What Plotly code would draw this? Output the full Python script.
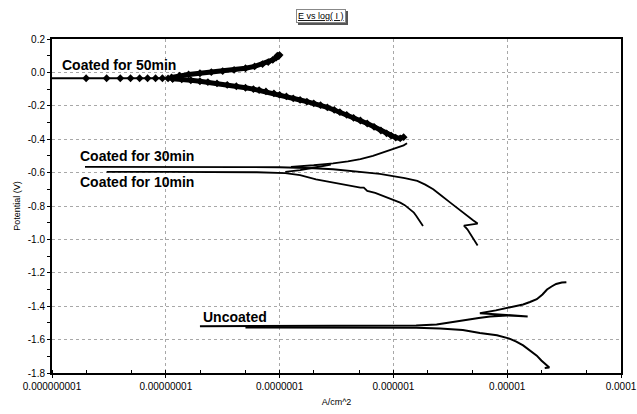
import plotly.graph_objects as go

# ---- data (log10 of current density in A/cm^2, potential in V) ----
c50_cath_logi = [-5.91, -5.94, -5.98, -6.02, -6.06, -6.11, -6.17, -6.23, -6.29, -6.35, -6.41, -6.47,
                 -6.52, -6.58, -6.64, -6.70, -6.76, -6.82, -6.88, -6.94, -7.00, -7.05, -7.12, -7.18,
                 -7.23, -7.30, -7.38, -7.46, -7.55, -7.63, -7.70, -7.78, -7.86, -7.94]
c50_cath_e = [-0.388, -0.395, -0.390, -0.378, -0.365, -0.348, -0.326, -0.306, -0.288, -0.272, -0.254, -0.238,
              -0.225, -0.210, -0.196, -0.185, -0.175, -0.165, -0.155, -0.144, -0.134, -0.125, -0.114, -0.106,
              -0.100, -0.092, -0.083, -0.075, -0.066, -0.058, -0.053, -0.047, -0.042, -0.038]
c50_flat_logi = [-7.94, -7.98, -8.03, -8.09, -8.16, -8.23, -8.31, -8.40, -8.52, -8.70, -9.05]
c50_flat_e = [-0.038, -0.036, -0.035, -0.035, -0.035, -0.035, -0.035, -0.035, -0.035, -0.035, -0.035]
c50_an_logi = [-7.95, -7.88, -7.80, -7.70, -7.60, -7.50, -7.40, -7.30, -7.22, -7.15, -7.10, -7.06,
               -7.03, -7.01, -7.00, -7.02]
c50_an_e = [-0.030, -0.020, -0.012, -0.005, 0.002, 0.008, 0.015, 0.025, 0.036, 0.050, 0.062, 0.075,
            0.088, 0.098, 0.104, 0.100]

c30_cath_logi = [-5.26, -5.29, -5.32, -5.35, -5.38, -5.26, -5.30, -5.35, -5.42, -5.50, -5.58, -5.65,
                 -5.72, -5.79, -5.90, -6.00, -6.12, -6.23, -6.38, -6.53, -6.70, -6.85, -7.00, -7.30,
                 -7.70, -8.20, -8.71]
c30_cath_e = [-1.037, -1.005, -0.970, -0.940, -0.917, -0.905, -0.885, -0.860, -0.822, -0.780, -0.737, -0.700,
              -0.672, -0.650, -0.633, -0.620, -0.608, -0.600, -0.590, -0.580, -0.574, -0.570, -0.568, -0.567,
              -0.566, -0.566, -0.566]
c30_an_logi = [-6.90, -6.80, -6.70, -6.60, -6.53, -6.40, -6.29, -6.18, -6.09, -6.02, -5.96, -5.91, -5.88]
c30_an_e = [-0.566, -0.562, -0.556, -0.549, -0.545, -0.533, -0.520, -0.500, -0.480, -0.463, -0.450, -0.437, -0.424]

c10_cath_logi = [-5.74, -5.77, -5.80, -5.82, -5.86, -5.90, -5.94, -6.02, -6.09, -6.16, -6.23, -6.26,
                 -6.29, -6.40, -6.53, -6.68, -6.82, -6.95, -7.20, -7.60, -8.00, -8.52]
c10_cath_e = [-0.920, -0.885, -0.858, -0.840, -0.815, -0.795, -0.780, -0.758, -0.740, -0.722, -0.710, -0.690,
              -0.690, -0.675, -0.660, -0.640, -0.615, -0.603, -0.598, -0.596, -0.596, -0.596]
c10_an_logi = [-6.95, -6.82, -6.68, -6.55]
c10_an_e = [-0.596, -0.585, -0.568, -0.552]

unc_an_logi = [-7.70, -7.20, -6.60, -6.00, -5.80, -5.62, -5.50, -5.39, -5.25, -5.15, -5.00, -4.90, -4.82,
               -5.24, -5.10, -5.04, -4.95, -4.86, -4.80, -4.74, -4.69, -4.65, -4.61, -4.57, -4.52, -4.48]
unc_an_e = [-1.520, -1.520, -1.520, -1.519, -1.516, -1.510, -1.497, -1.483, -1.470, -1.462, -1.455, -1.458, -1.461,
            -1.442, -1.425, -1.416, -1.403, -1.390, -1.375, -1.358, -1.330, -1.300, -1.282, -1.267, -1.258, -1.256]
unc_cath_logi = [-7.30, -7.00, -6.40, -6.00, -5.80, -5.59, -5.39, -5.24, -5.09, -4.98, -4.92, -4.86, -4.80,
                 -4.74, -4.70, -4.65, -4.63, -4.67]
unc_cath_e = [-1.528, -1.528, -1.528, -1.528, -1.529, -1.533, -1.543, -1.560, -1.574, -1.594, -1.612, -1.635, -1.665,
              -1.696, -1.725, -1.757, -1.767, -1.770]

x_tickvals = [1e-9, 1e-8, 1e-7, 1e-6, 1e-5, 1e-4]
x_ticktext = ["0.000000001", "0.00000001", "0.0000001", "0.000001", "0.00001", "0.0001"]
y_tickvals = [0.2, 0.0, -0.2, -0.4, -0.6, -0.8, -1.0, -1.2, -1.4, -1.6, -1.8]
y_ticktext = ["0.2", "0.0", "-0.2", "-0.4", "-0.6", "-0.8", "-1.0", "-1.2", "-1.4", "-1.6", "-1.8"]

labels = ["Coated for 50min", "Coated for 30min", "Coated for 10min", "Uncoated"]
label_logi = [-8.41, -8.25, -8.25, -7.39]
label_e = [0.047, -0.498, -0.656, -1.462]


def cur(logs):
    return [10 ** v for v in logs]


fig = go.Figure()

# Coated 50 min: thick band with dense diamond markers
for lx, ly, w in [(c50_cath_logi, c50_cath_e, 5), (c50_an_logi, c50_an_e, 5), (c50_flat_logi, c50_flat_e, 2)]:
    fig.add_trace(go.Scatter(x=cur(lx), y=ly, mode="lines+markers",
                             line=dict(color="black", width=w),
                             marker=dict(symbol="diamond", size=6, color="black"),
                             showlegend=False, hoverinfo="skip", cliponaxis=True))

for lx, ly, w in [(c30_cath_logi, c30_cath_e, 1.8), (c30_an_logi, c30_an_e, 1.8),
                  (c10_cath_logi, c10_cath_e, 1.8), (c10_an_logi, c10_an_e, 1.8),
                  (unc_an_logi, unc_an_e, 2), (unc_cath_logi, unc_cath_e, 2)]:
    fig.add_trace(go.Scatter(x=cur(lx), y=ly, mode="lines",
                             line=dict(color="black", width=w),
                             showlegend=False, hoverinfo="skip"))

for t, lx, ly in zip(labels, label_logi, label_e):
    fig.add_annotation(x=lx, y=ly, xref="x", yref="y", text="<b>" + t + "</b>",
                       showarrow=False, font=dict(family="Arial", size=14, color="black"),
                       xanchor="center", yanchor="middle")

L, R, T, B = 52, 16, 39, 41
pw = 637 - L - R
ph = 414 - T - B


def px2paper(px, py):
    return (px - L) / pw, (414 - B - py) / ph


# shadow of the title box
sx0, sy0 = px2paper(298, 11)
sx1, sy1 = px2paper(348, 25)
fig.add_shape(type="rect", xref="paper", yref="paper", x0=sx0, x1=sx1, y0=sy1, y1=sy0,
              fillcolor="#555555", line=dict(width=0), layer="above")
tx, ty = px2paper(321, 16)
fig.add_annotation(x=tx, y=ty, xref="paper", yref="paper", xanchor="center", yanchor="middle",
                   text="<u>E vs log( I )</u>",
                   showarrow=False, font=dict(family="Arial", size=9, color="black"),
                   bordercolor="#888888", borderwidth=1, borderpad=1, bgcolor="white")

fig.update_layout(
    width=637, height=414,
    margin=dict(l=L, r=R, t=T, b=B, autoexpand=False),
    paper_bgcolor="white", plot_bgcolor="white",
    font=dict(family="Arial", color="black"),
    xaxis=dict(type="log", range=[-9, -4], tickvals=x_tickvals, ticktext=x_ticktext,
               tickfont=dict(size=10), showline=True, linecolor="black", linewidth=2,
               mirror=True, ticks="outside", ticklen=3, tickcolor="black", automargin=False,
               showgrid=True, gridcolor="#a8a8a8", griddash="dot", gridwidth=1,
               minor=dict(ticks="inside", ticklen=3, tickcolor="black", showgrid=False),
               title=dict(text="A/cm^2", font=dict(size=9), standoff=8),
               zeroline=False),
    yaxis=dict(range=[-1.8, 0.2], tickvals=y_tickvals, ticktext=y_ticktext,
               tickfont=dict(size=10), showline=True, linecolor="black", linewidth=2,
               mirror=True, ticks="outside", ticklen=3, tickcolor="black", automargin=False,
               showgrid=True, gridcolor="#a8a8a8", griddash="dot", gridwidth=1,
               minor=dict(ticks="outside", ticklen=3, tickcolor="black", dtick=0.1, showgrid=False),
               title=dict(text="Potential (V)", font=dict(size=9), standoff=6),
               zeroline=False),
)

fig.write_html("out.html", config={"displayModeBar": False},
               post_script="document.body.style.margin='0';document.body.style.overflow='hidden';")
